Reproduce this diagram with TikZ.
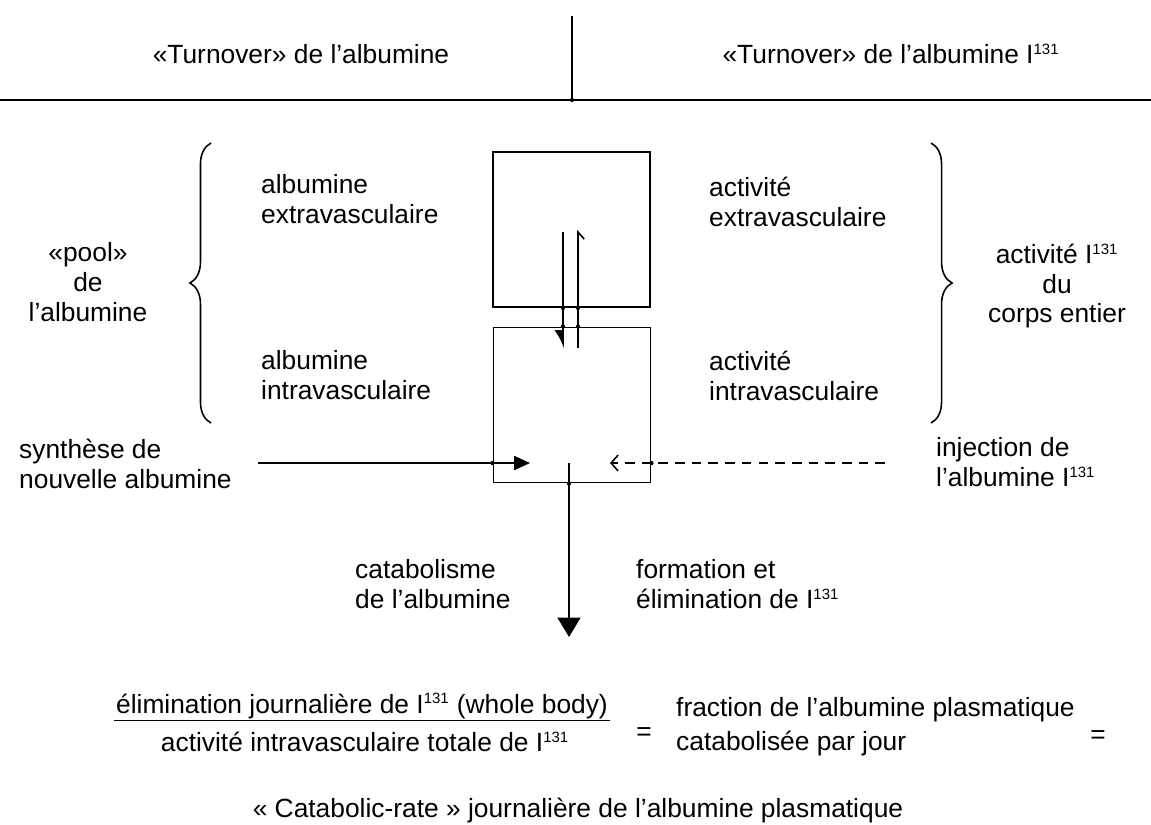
\documentclass[tikz,border=0pt]{standalone}
\usepackage{fontspec}
\setmainfont{Liberation Sans}
\usetikzlibrary{arrows.meta,decorations.pathreplacing}
\newcommand\isotope{I\textsuperscript{\fontsize{8.5}{9}\selectfont 131}}
\begin{document}
\begin{tikzpicture}[x=0.02cm,y=-0.02cm,
		txt/.style={font=\fontsize{15}{17}\selectfont},
		lft/.style={txt,anchor=west,align=left},
		ctr/.style={txt,align=center},
		pool/.style={draw,line width=1.1pt,minimum width=3.14cm,minimum height=3.1cm,inner sep=0pt},
		flow/.style={line width=0.9pt},
		dot/.style={circle,fill,inner sep=0pt,minimum size=2.4pt},
		accolade/.style={decorate,decoration={brace,amplitude=12pt},line width=0.9pt}]
		\useasboundingbox (0,0) rectangle (1151,824);
		% en-tete
		\node[txt,anchor=base] (hleft) at (301,64) {«Turnover» de l'albumine};
		\node[txt,anchor=base] (hright) at (891,64) {«Turnover» de l'albumine \isotope};
		\coordinate (rulel) at (0,100);
		\coordinate (ruler) at (1151,100);
		\coordinate (rulem) at (572,16);
		\draw[line width=1.4pt] (rulel) -- (ruler);
		\draw[line width=0.8pt] (rulem) -- (rulem |- rulel);
		\node[dot] at (rulem |- rulel) {};
		% les deux compartiments
		\node[pool] (extra) at (571.5,229.5) {};
		\node[pool] (intra) at (572,405) {};
		\node[lft] (albext) at (255,199) {albumine\\extravasculaire};
		\node[lft] (albint) at (255,375) {albumine\\intravasculaire};
		\node[lft] (actext) at (703,202) {activité\\extravasculaire};
		\node[lft] (actint) at (703,376) {activité\\intravasculaire};
		\node[ctr] (pool) at (88,282) {«pool»\\de\\l'albumine};
		\node[ctr] (corps) at (1057,286) {activité \isotope\\du\\corps entier};
		\draw[accolade] (211,423) -- (211,143);
		\draw[accolade] (931,143) -- (931,423);
		% echanges
		\coordinate (down1) at (563,232);
		\coordinate (down2) at (563,348);
		\coordinate (up1) at (578,348);
		\coordinate (up2) at (578,230);
		\draw[flow,-{Latex[harpoon,swap,length=9pt,width=10pt]}] (down1) -- (down2);
		\draw[flow,-{Straight Barb[harpoon,swap,length=4pt,width=7pt]}] (up1) -- (up2);
		\node[dot] at (down1 |- extra.south) {};
		\node[dot] at (up1 |- extra.south) {};
		\node[dot] at (down1 |- intra.north) {};
		\node[dot] at (up1 |- intra.north) {};
		% entrees et sortie
		\node[lft] (synth) at (13,464) {synthèse de\\nouvelle albumine};
		\node[lft] (inject) at (930,462) {injection de\\l'albumine \isotope};
		\coordinate (syn1) at (258,463);
		\coordinate (syn2) at (530,463);
		\coordinate (inj1) at (885,463);
		\coordinate (inj2) at (610,463);
		\coordinate (cat1) at (569,463);
		\coordinate (cat2) at (569,637);
		\draw[flow,-{Triangle[length=9pt,width=8pt]}] (syn1) -- (syn2);
		\draw[flow,dash pattern=on 5.5pt off 4pt,-{Straight Barb[length=4pt,width=9pt]}] (inj1) -- (inj2);
		\draw[flow,-{Triangle[length=11pt,width=13pt]}] (cat1) -- (cat2);
		\node[dot] at (intra.west |- syn1) {};
		\node[dot] at (intra.east |- inj1) {};
		\node[dot] at (cat1 |- intra.south) {};
		\node[lft] (catab) at (349,584) {catabolisme\\de l'albumine};
		\node[lft] (elim) at (630,584) {formation et\\élimination de \isotope};
		% formule
		\node[txt,inner sep=1pt] (num) at (362,706) {élimination journalière de \isotope\ (whole body)};
		\node[txt,inner sep=1pt] (den) at (365,742) {activité intravasculaire totale de \isotope};
		\draw[line width=0.8pt] (num.south west) -- (num.south east);
		\node[txt] (eq1) at (644,734) {=};
		\node[lft] (frac1) at (670,710) {fraction de l'albumine plasmatique};
		\node[lft] (frac2) at (670,744) {catabolisée par jour};
		\node[txt] (eq2) at (1098,737) {=};
		\node[txt] (rate) at (578,811) {« Catabolic-rate » journalière de l'albumine plasmatique};
\end{tikzpicture}
\end{document}
